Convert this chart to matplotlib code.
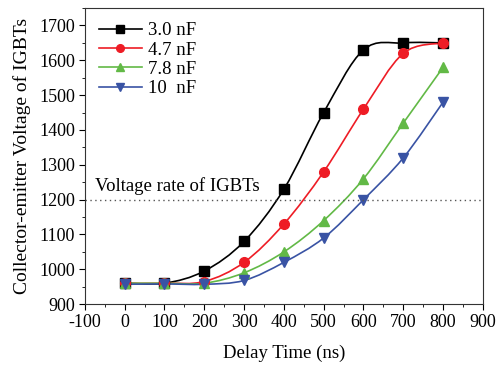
import numpy as np
import matplotlib
matplotlib.use("Agg")
import matplotlib.pyplot as plt
from matplotlib.path import Path
from matplotlib.patches import PathPatch
from matplotlib.ticker import MultipleLocator

plt.rcParams['font.family'] = ['Liberation Serif', 'DejaVu Serif']
plt.rcParams['axes.unicode_minus'] = False

delay = [0, 100, 200, 300, 400, 500, 600, 700, 800]
v_30 = [960, 960, 995, 1080, 1230, 1450, 1630, 1650, 1650]
v_47 = [960, 960, 965, 1020, 1130, 1280, 1460, 1620, 1650]
v_78 = [960, 960, 960, 990, 1050, 1140, 1260, 1420, 1580]
v_10 = [957, 958, 957, 968, 1020, 1090, 1200, 1320, 1480]
labels = ['3.0 nF', '4.7 nF', '7.8 nF', '10  nF']
colors = ['black', '#ee1c25', '#62b946', '#3953a4']
markers = ['s', 'o', '^', 'v']
rate = 1200


def smooth_path(x, y):
    # Catmull-Rom through the points, drawn as cubic bezier segments
    x = np.asarray(x, float); y = np.asarray(y, float)
    verts = [(x[0], y[0])]; codes = [Path.MOVETO]
    n = len(x)
    for i in range(n - 1):
        p0 = i - 1 if i > 0 else i
        p3 = i + 2 if i + 2 < n else i + 1
        c1 = (x[i] + (x[i + 1] - x[p0]) / 6, y[i] + (y[i + 1] - y[p0]) / 6)
        c2 = (x[i + 1] - (x[p3] - x[i]) / 6, y[i + 1] - (y[p3] - y[i]) / 6)
        verts += [c1, c2, (x[i + 1], y[i + 1])]
        codes += [Path.CURVE4] * 3
    return Path(verts, codes)


fig = plt.figure(figsize=(5.02, 3.66), dpi=100)
ax = fig.add_axes([0.169, 0.169, 0.793, 0.809])

for vals, lab, c, m in zip([v_30, v_47, v_78, v_10], labels, colors, markers):
    ax.add_patch(PathPatch(smooth_path(delay, vals), fill=False, edgecolor=c, lw=1.2))
    ax.plot(delay, vals, linestyle='none', marker=m, color=c, markersize=7)
    ax.plot([], [], color=c, marker=m, markersize=5.5, lw=1.2, label=lab)

ax.axhline(rate, color='#555555', ls=(0, (1, 2.5)), lw=1)
ax.text(-75, 1213, 'Voltage rate of IGBTs', fontsize=13.5, va='bottom')

ax.set_xlim(-100, 900)
ax.set_ylim(900, 1750)
ax.xaxis.set_major_locator(MultipleLocator(100))
ax.xaxis.set_minor_locator(MultipleLocator(50))
ax.yaxis.set_major_locator(MultipleLocator(100))
ax.yaxis.set_minor_locator(MultipleLocator(50))
ax.tick_params(which='both', direction='out', labelsize=13)
ax.tick_params(which='major', length=4, pad=3)
ax.tick_params(which='minor', length=2.5)
ax.set_xlabel('Delay Time (ns)', fontsize=13.5, labelpad=10)
ax.set_ylabel('Collector-emitter Voltage of IGBTs', fontsize=14, labelpad=6)
for s in ax.spines.values():
    s.set_color('#333333')

ax.legend(loc='upper left', frameon=False, fontsize=13.5, handlelength=2.3,
          handletextpad=0.3, labelspacing=0.12, borderaxespad=0.35)

fig.savefig('out.png', dpi=100)
